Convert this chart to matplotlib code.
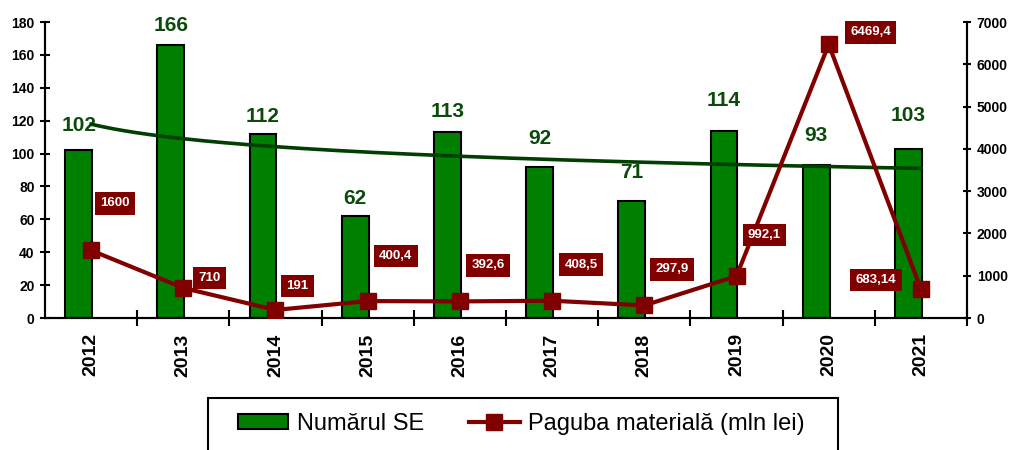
import numpy as np
import matplotlib
matplotlib.use("Agg")
import matplotlib.pyplot as plt
from matplotlib.lines import Line2D
from matplotlib.patches import Patch, Rectangle

plt.rcParams['font.family'] = ['Liberation Sans', 'DejaVu Sans']

years = ['2012', '2013', '2014', '2015', '2016', '2017', '2018', '2019', '2020', '2021']
numar_se = [102, 166, 112, 62, 113, 92, 71, 114, 93, 103]
paguba = [1600, 710, 191, 400.4, 392.6, 408.5, 297.9, 992.1, 6469.4, 683.14]
paguba_txt = ['1600', '710', '191', '400,4', '392,6', '408,5', '297,9', '992,1', '6469,4', '683,14']

# label offsets in pixels (hand placed, as in the original)
bar_lab_dy = [25, 20, 17, 18, 21, 28, 29, 30, 30, 33]
red_lab_off = [(24, 47), (26, 10), (22, 24), (28, 45), (28, 36), (29, 36),
               (28, 36), (28, 41), (42, 12), (-45, 9)]

green = '#008000'
dgreen = '#0b4a0b'
dred = '#800000'

fig = plt.figure(figsize=(10.11, 4.5), dpi=100)
ax = fig.add_axes([0.0445, 0.2933, 0.912, 0.6578])
ax2 = ax.twinx()

x = np.arange(len(years))
ax.bar(x - 0.135, numar_se, width=0.29, color=green, edgecolor='black', linewidth=1.5, zorder=2)

# power trendline of the bars (Excel style)
xs = np.linspace(1, len(years), 200)
b, a = np.polyfit(np.log(x + 1), np.log(numar_se), 1)
ax.plot(xs - 1, np.exp(a) * xs ** b, color='#003f00', lw=2.6, zorder=3)

for i, v in enumerate(numar_se):
    ax.annotate(str(v), (x[i] - 0.135, v), xytext=(0, bar_lab_dy[i]), textcoords='offset pixels',
                ha='center', va='center', fontsize=15, fontweight='bold', color=dgreen, zorder=2.5)

ax2.plot(x, paguba, color=dred, lw=3, marker='s', markersize=11, zorder=4)
for i, v in enumerate(paguba):
    ax2.annotate(paguba_txt[i], (x[i], v), xytext=red_lab_off[i], textcoords='offset pixels',
                 ha='center', va='center', fontsize=9.5, fontweight='bold', color='white', zorder=6,
                 bbox=dict(boxstyle='square,pad=0.4', fc=dred, ec='none'))

ax.set_xlim(-0.5, len(years) - 0.5)
ax.set_ylim(0, 180)
ax.set_yticks(range(0, 181, 20))
ax2.set_ylim(0, 7000)
ax2.set_yticks(range(0, 7001, 1000))

ax.set_xticks(x + 0.5, minor=False)
ax.set_xticklabels([])
ax.set_xticks(x, minor=True)
ax.set_xticklabels(years, minor=True, rotation=90, fontsize=14, fontweight='bold')
ax.tick_params(axis='x', which='major', direction='inout', length=12, width=1.5)
ax.tick_params(axis='x', which='minor', length=0, pad=11)
ax.tick_params(axis='y', direction='inout', length=7, width=1.5, labelsize=10, pad=4)
ax2.tick_params(axis='y', direction='inout', length=6, width=1.5, labelsize=10, pad=4)
for t in ax.get_yticklabels() + ax2.get_yticklabels():
    t.set_fontweight('bold')

for axx in (ax, ax2):
    axx.spines['top'].set_visible(False)
    for s in ('left', 'right', 'bottom'):
        axx.spines[s].set_linewidth(1.5)

# legend frame (runs off the bottom edge like the original)
fig.patches.append(Rectangle((208 / 1011, -0.05), 630 / 1011, 0.05 + 52 / 450,
                             transform=fig.transFigure, fill=False, ec='black', lw=1.5))
handles = [Patch(facecolor=green, edgecolor='black', linewidth=1.5),
           Line2D([0], [0], color=dred, lw=3, marker='s', markersize=11)]
leg = fig.legend(handles, ['Numărul SE', 'Paguba materială (mln lei)'], loc='center',
                 bbox_to_anchor=(521 / 1011, 1 - 424 / 450), ncol=2, frameon=False,
                 fontsize=17, handlelength=2.15, handleheight=0.6, columnspacing=1.9,
                 handletextpad=0.35, borderpad=0, borderaxespad=0)

fig.savefig('out.png', dpi=100)
